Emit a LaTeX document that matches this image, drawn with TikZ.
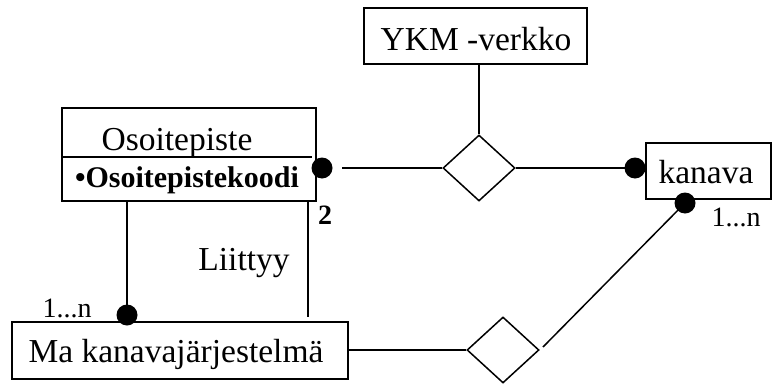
\documentclass[tikz,border=0pt]{standalone}
\usepackage{fontspec}
\setmainfont{Liberation Serif}
\usetikzlibrary{shapes.geometric}
\begin{document}
\begin{tikzpicture}[x=1pt,y=-1pt,
  box/.style={draw, line width=1.5pt, rectangle, inner sep=0pt},
  rel/.style={draw, diamond, line width=1.5pt, minimum width=72pt, minimum height=66pt, inner sep=0pt},
  dot/.style={circle, fill=black, inner sep=0pt, minimum size=21pt},
  conn/.style={line width=1.5pt},
  lbl/.style={font=\fontsize{33.5}{40}\selectfont, inner sep=0pt, anchor=base},
  card/.style={font=\fontsize{28}{32}\selectfont, inner sep=0pt, anchor=base}]
\useasboundingbox (0,0) rectangle (774,383);
% entity boxes
\node[box, minimum width=254pt, minimum height=93pt] (oso) at (189,154.5) {};
\node[box, minimum width=223pt, minimum height=56pt] (ykm) at (475.5,36) {};
\node[box, minimum width=125pt, minimum height=56pt] (kan) at (708.5,171) {};
\node[box, minimum width=336pt, minimum height=57pt] (ma) at (180,350.5) {};
% texts
\node[lbl] (tOso) at (177,150) {Osoitepiste};
\node[font=\fontsize{30}{36}\selectfont\bfseries, inner sep=0pt, anchor=base] (tKoodi) at (187,187) {•Osoitepistekoodi};
\node[lbl] (tYkm) at (476,50) {YKM -verkko};
\node[lbl] (tKan) at (706,183) {kanava};
\node[lbl] (tMa) at (176,362) {Ma kanavajärjestelmä};
\node[lbl] (tLiit) at (244,270) {Liittyy};
\node[card] (c1) at (67,317) {1...n};
\node[card] (c2) at (736,226) {1...n};
\node[card, font=\fontsize{28}{32}\selectfont\bfseries] (c3) at (325,224) {2};
% separator
\coordinate (s1) at (62,157);
\coordinate (s2) at (312,157);
\draw[conn] (s1) -- (s2);
% relationship diamonds
\node[rel] (r1) at (479,168) {};
\node[rel] (r2) at (503,350) {};
% dots
\node[dot] (d1) at (322,168) {};
\node[dot] (d2) at (635,168) {};
\node[dot] (d3) at (685,203) {};
\node[dot] (d4) at (127,315) {};
% free ends
\coordinate (g1) at (342,168);
\coordinate (g2) at (543,347);
\coordinate (l1) at (308,317);
% connectors
\draw[conn] (g1) -- (r1.west);
\draw[conn] (r1.north) -- (r1.north |- ykm.south);
\draw[conn] (r1.east) -- (d2.center);
\draw[conn] (d4.center) -- (d4 |- oso.south);
\draw[conn] (l1 |- oso.south) -- (l1);
\draw[conn] (r2.west -| ma.east) -- (r2.west);
\draw[conn] (g2) -- (d3.center);
\end{tikzpicture}
\end{document}
